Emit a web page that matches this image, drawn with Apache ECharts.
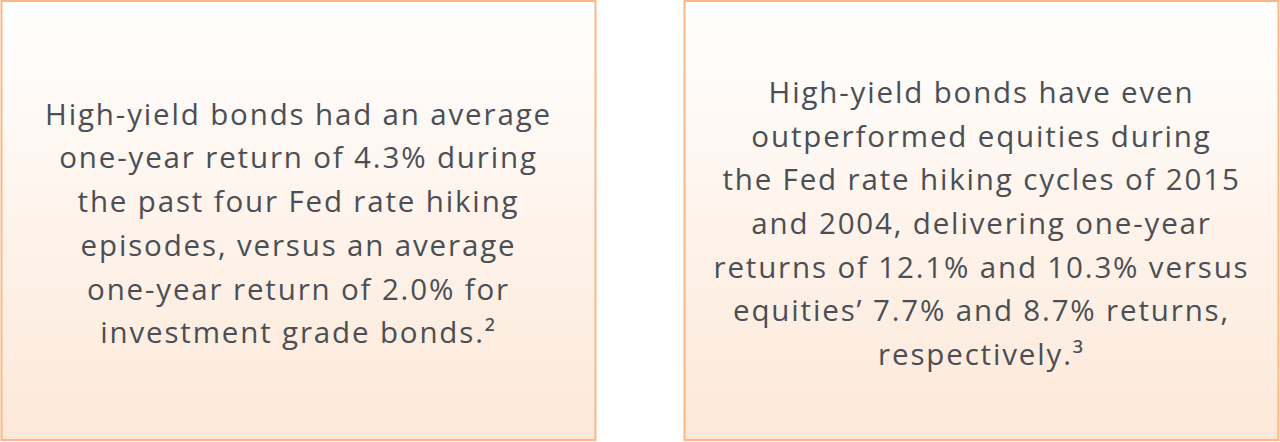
<!DOCTYPE html>
<html>
<head>
<meta charset="utf-8">
<script src="https://cdn.jsdelivr.net/npm/echarts@6/dist/echarts.min.js"></script>
<style>
html,body{margin:0;padding:0;background:#fff;}
#c{width:1280px;height:442px;}
#c text{letter-spacing:1.85px;}
</style>
</head>
<body>
<div id="c"></div>
<script>
const leftLines = [
  "High-yield bonds had an average",
  "one-year return of 4.3% during",
  "the past four Fed rate hiking",
  "episodes, versus an average",
  "one-year return of 2.0% for",
  "investment grade bonds.\u00B2"
];
const rightLines = [
  "High-yield bonds have even",
  "outperformed equities during",
  "the Fed rate hiking cycles of 2015",
  "and 2004, delivering one-year",
  "returns of 12.1% and 10.3% versus",
  "equities\u2019 7.7% and 8.7% returns,",
  "respectively.\u00B3"
];
const panels = [leftLines, rightLines];

const chart = echarts.init(document.getElementById('c'), null, {renderer: 'svg'});
const boxX = [1.5, 684.5];
const boxW = 594;
const boxY = 1;
const boxH = 439;
const elements = [];
panels.forEach((lines, i) => {
  elements.push({
    type: 'rect',
    shape: {x: boxX[i], y: boxY, width: boxW, height: boxH},
    style: {
      fill: new echarts.graphic.LinearGradient(0, 0, 0, 1, [
        {offset: 0, color: '#ffffff'},
        {offset: 1, color: '#fde8d8'}
      ]),
      stroke: '#fbb886',
      lineWidth: 2
    },
    z: 1
  });
  elements.push({
    type: 'text',
    x: boxX[i] + boxW / 2,
    y: boxY + boxH / 2 + 2,
    style: {
      text: lines.join('\n'),
      fill: '#4b4f55',
      fontFamily: 'Open Sans',
      fontSize: 29.5,
      lineHeight: 43.7,
      align: 'center',
      verticalAlign: 'middle'
    },
    z: 2
  });
});
chart.setOption({
  animation: false,
  graphic: {elements: elements}
});
</script>
</body>
</html>
